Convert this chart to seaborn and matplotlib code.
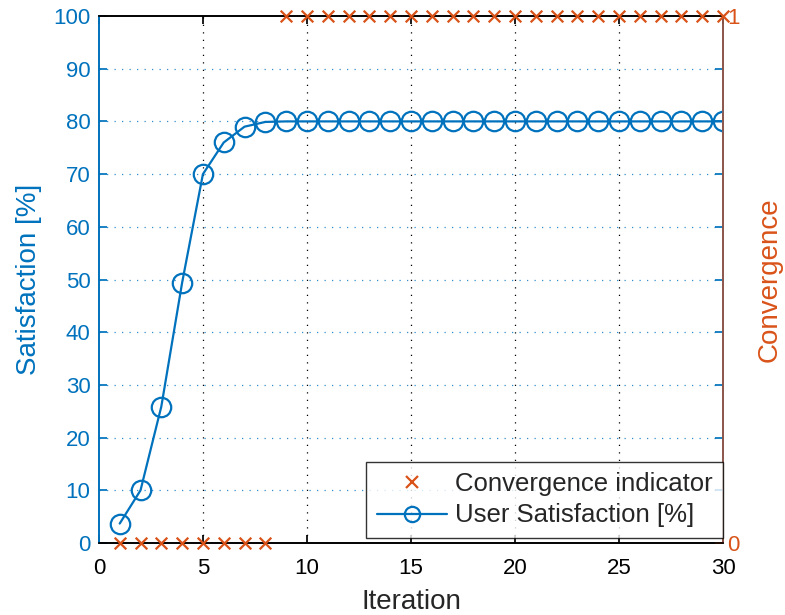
import matplotlib
matplotlib.use("Agg")
import matplotlib.pyplot as plt
import seaborn as sns
import pandas as pd
from matplotlib.lines import Line2D

iterations = list(range(1, 31))
satisfaction = [3.7, 10.0, 25.9, 49.4, 70.0, 76.0, 79.0, 79.9] + [80.0] * 22
convergence = [0] * 8 + [1] * 22

x_ticks = [0, 5, 10, 15, 20, 25, 30]
y_ticks = list(range(0, 101, 10))

BLUE = "#0072BD"
ORANGE = "#D95319"

sns.set_theme(style="white")
plt.rcParams["font.family"] = ["Liberation Sans", "DejaVu Sans"]

df = pd.DataFrame({"Iteration": iterations, "Satisfaction": satisfaction,
                   "Convergence": convergence})

fig = plt.figure(figsize=(7.85, 6.15), dpi=100)
ax = fig.add_axes([0.126, 0.117, 0.795, 0.857])
ax2 = ax.twinx()

sns.lineplot(data=df, x="Iteration", y="Satisfaction", ax=ax, color=BLUE,
             linewidth=1.6, marker="o", markersize=14, markerfacecolor="none",
             markeredgecolor=BLUE, markeredgewidth=1.6, zorder=3)
sns.scatterplot(data=df, x="Iteration", y="Convergence", ax=ax2, color=ORANGE,
                marker="x", s=70, linewidth=1.6, zorder=3, clip_on=False)

ax.set_xlim(0, 30)
ax.set_ylim(0, 100)
ax2.set_ylim(0, 1)
ax.set_xticks(x_ticks)
ax.set_yticks(y_ticks)
ax2.set_yticks([0, 1])
ax2.set_yticklabels(["0", "1"])

# grid: vertical black dotted, horizontal blue dotted
for xv in x_ticks[1:-1]:
    ax.axvline(xv, color="black", linestyle=(0, (1, 5)), linewidth=0.9, zorder=0)
for yv in y_ticks[1:-1]:
    ax.axhline(yv, color=BLUE, linestyle=(0, (1, 5)), linewidth=0.9, alpha=0.8, zorder=0)

ax.tick_params(axis="x", direction="in", length=6, labelsize=16, colors="black",
               top=True, bottom=True, pad=11)
ax.tick_params(axis="y", direction="in", length=6, labelsize=16, colors=BLUE,
               left=True, right=True, pad=6)
ax2.tick_params(axis="y", direction="in", length=6, labelsize=16, colors=ORANGE,
                pad=3)

ax.set_xlabel("Iteration", fontsize=20, color="#262626", labelpad=7)
ax.set_ylabel("Satisfaction [%]", fontsize=20, color=BLUE, labelpad=8)
ax2.set_ylabel("Convergence", fontsize=20, color=ORANGE, labelpad=12)

for a in (ax, ax2):
    for s in a.spines.values():
        s.set_visible(True)
        s.set_linewidth(1.2)
ax.spines["left"].set_color(BLUE)
ax.spines["bottom"].set_color("black")
ax.spines["top"].set_color("black")
ax2.spines["right"].set_color("#9C5D4F")
ax2.spines["left"].set_color(BLUE)
ax2.spines["top"].set_color("black")
ax2.spines["bottom"].set_color("black")

handles = [
    Line2D([], [], color=ORANGE, marker="x", linestyle="none", markersize=8,
           markeredgewidth=1.6),
    Line2D([], [], color=BLUE, marker="o", markersize=11, markerfacecolor="none",
           markeredgewidth=1.6, linewidth=1.6),
]
leg = ax2.legend(handles, ["Convergence indicator", "User Satisfaction [%]"],
                 loc="lower right", bbox_to_anchor=(1.0, 0.01), fontsize=18.5,
                 frameon=True, fancybox=False, edgecolor="black",
                 borderpad=0.4, handlelength=2.75, labelspacing=0.3,
                 handletextpad=0.3, borderaxespad=0.0)
leg.get_frame().set_linewidth(1.0)
leg.set_zorder(10)
if ax.get_legend():
    ax.get_legend().remove()

fig.savefig("out.png", dpi=100)
